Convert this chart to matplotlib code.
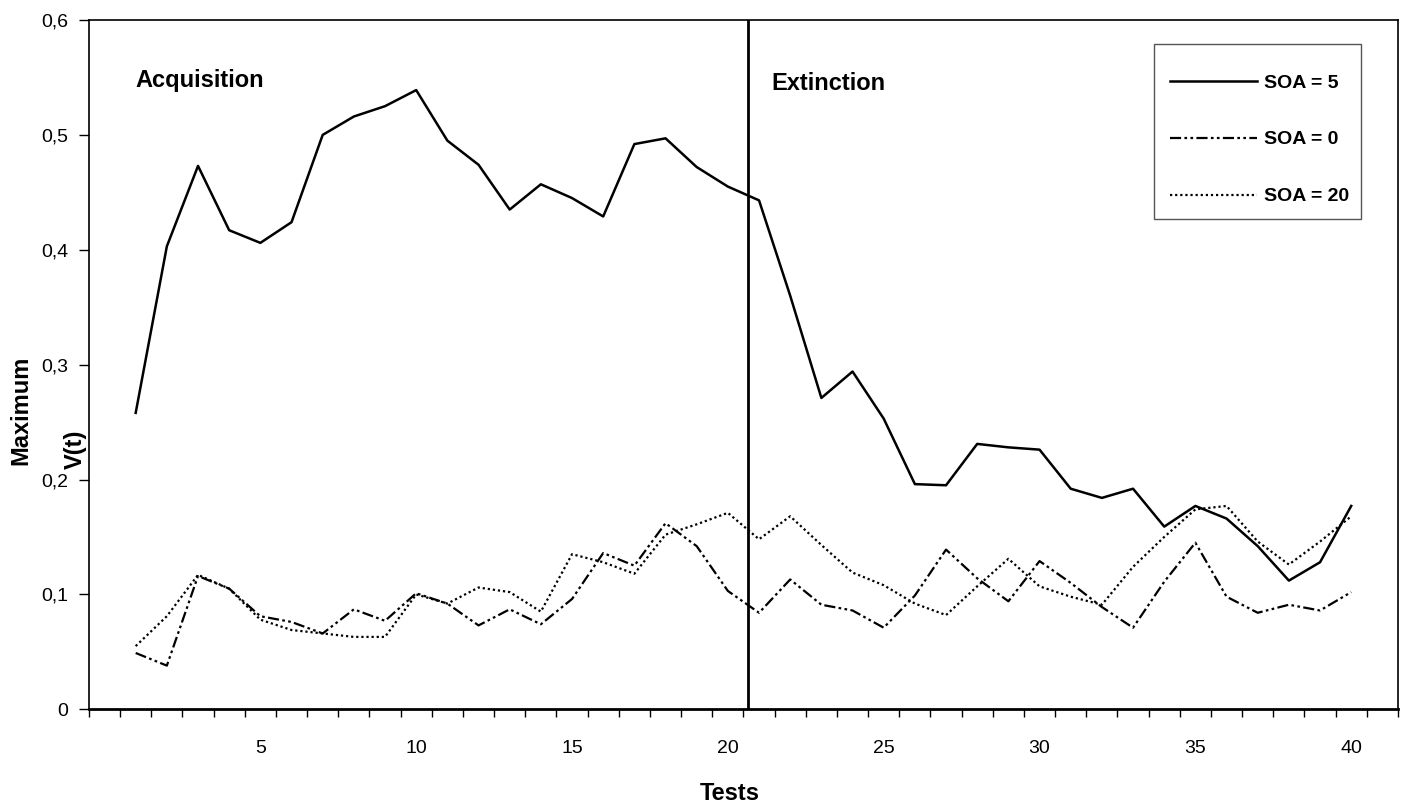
import matplotlib
matplotlib.use("Agg")
import matplotlib.pyplot as plt
from matplotlib.patches import Rectangle
from matplotlib.ticker import FixedLocator, FuncFormatter

plt.rcParams['font.family'] = ['Liberation Sans', 'DejaVu Sans']

tests = list(range(1, 41))

soa_5 = [0.258, 0.403, 0.473, 0.417, 0.406, 0.424, 0.500, 0.516, 0.525, 0.539,
         0.495, 0.474, 0.435, 0.457, 0.445, 0.429, 0.492, 0.497, 0.472, 0.455,
         0.443, 0.360, 0.271, 0.294, 0.253, 0.196, 0.195, 0.231, 0.228, 0.226,
         0.192, 0.184, 0.192, 0.159, 0.177, 0.166, 0.142, 0.112, 0.128, 0.177]

soa_0 = [0.049, 0.038, 0.116, 0.105, 0.081, 0.076, 0.066, 0.087, 0.077, 0.101,
         0.092, 0.073, 0.087, 0.074, 0.096, 0.136, 0.125, 0.162, 0.142, 0.103,
         0.084, 0.113, 0.091, 0.086, 0.071, 0.099, 0.139, 0.114, 0.094, 0.129,
         0.110, 0.089, 0.071, 0.111, 0.145, 0.098, 0.084, 0.091, 0.086, 0.102]

soa_20 = [0.055, 0.081, 0.117, 0.105, 0.078, 0.069, 0.066, 0.063, 0.063, 0.100,
          0.092, 0.106, 0.102, 0.085, 0.135, 0.128, 0.118, 0.152, 0.161, 0.171,
          0.148, 0.168, 0.143, 0.119, 0.108, 0.092, 0.082, 0.107, 0.131, 0.107,
          0.098, 0.091, 0.124, 0.150, 0.174, 0.177, 0.146, 0.126, 0.146, 0.168]

label_ticks = [5, 10, 15, 20, 25, 30, 35, 40]
y_ticks = [0, 0.1, 0.2, 0.3, 0.4, 0.5, 0.6]
phase_split = 20.65

W, H = 1405, 807
fig = plt.figure(figsize=(W / 100, H / 100), dpi=100)
ax = fig.add_axes([0.0633, 0.1211, 0.9317, 0.8541])

ax.plot(tests, soa_5, color='black', lw=1.8, label='SOA = 5')
ax.plot(tests, soa_0, color='black', lw=1.6,
        linestyle=(0, (5, 1.5, 1.2, 1.5, 1.2, 1.5)), label='SOA = 0')
ax.plot(tests, soa_20, color='black', lw=1.6,
        linestyle=(0, (1, 1.3)), label='SOA = 20')

ax.axvline(phase_split, color='black', lw=2)

ax.set_xlim(-0.5, 41.5)
ax.set_ylim(0, 0.6)

# category-style axis: small ticks between tests, numbers under tests
ax.xaxis.set_major_locator(FixedLocator(label_ticks))
ax.xaxis.set_minor_locator(FixedLocator([i + 0.5 for i in range(-1, 42)]))
ax.tick_params(axis='x', which='major', length=0, pad=22, labelsize=14)
ax.tick_params(axis='x', which='minor', length=6, width=1, direction='out')

ax.yaxis.set_major_locator(FixedLocator(y_ticks))
ax.yaxis.set_major_formatter(FuncFormatter(
    lambda v, p: '0' if v == 0 else ('%.1f' % v).replace('.', ',')))
ax.tick_params(axis='y', length=7, width=1, direction='out', pad=8, labelsize=14)

for s in ax.spines.values():
    s.set_linewidth(1.2)
    s.set_color('black')
ax.spines['bottom'].set_linewidth(2)

ax.text(1, 0.5475, 'Acquisition', fontsize=17, fontweight='bold', va='center')
ax.text(21.4, 0.545, 'Extinction', fontsize=17, fontweight='bold', va='center')

fig.text(730 / W, 1 - 793 / H, 'Tests', fontsize=17, fontweight='bold',
         ha='center', va='center')
fig.text(21 / W, 1 - 410 / H, 'Maximum', fontsize=17, fontweight='bold',
         rotation=90, ha='center', va='center')
fig.text(75 / W, 1 - 449 / H, 'V(t)', fontsize=17, fontweight='bold',
         rotation=90, ha='center', va='center')

# legend entries without frame, box drawn separately (more room on top)
leg = ax.legend(loc='upper left', bbox_to_anchor=(1170 / W, 1 - 74 / H),
                bbox_transform=fig.transFigure, frameon=False,
                prop={'weight': 'bold', 'size': 14}, handlelength=4.45,
                handletextpad=0.4, labelspacing=2.02, borderpad=0,
                borderaxespad=0)
fig.patches.append(Rectangle((1154 / W, 1 - 219 / H), 207 / W, 175 / H,
                             transform=fig.transFigure, fill=False,
                             edgecolor='#555555', lw=1))

fig.savefig('out.png', dpi=100)
